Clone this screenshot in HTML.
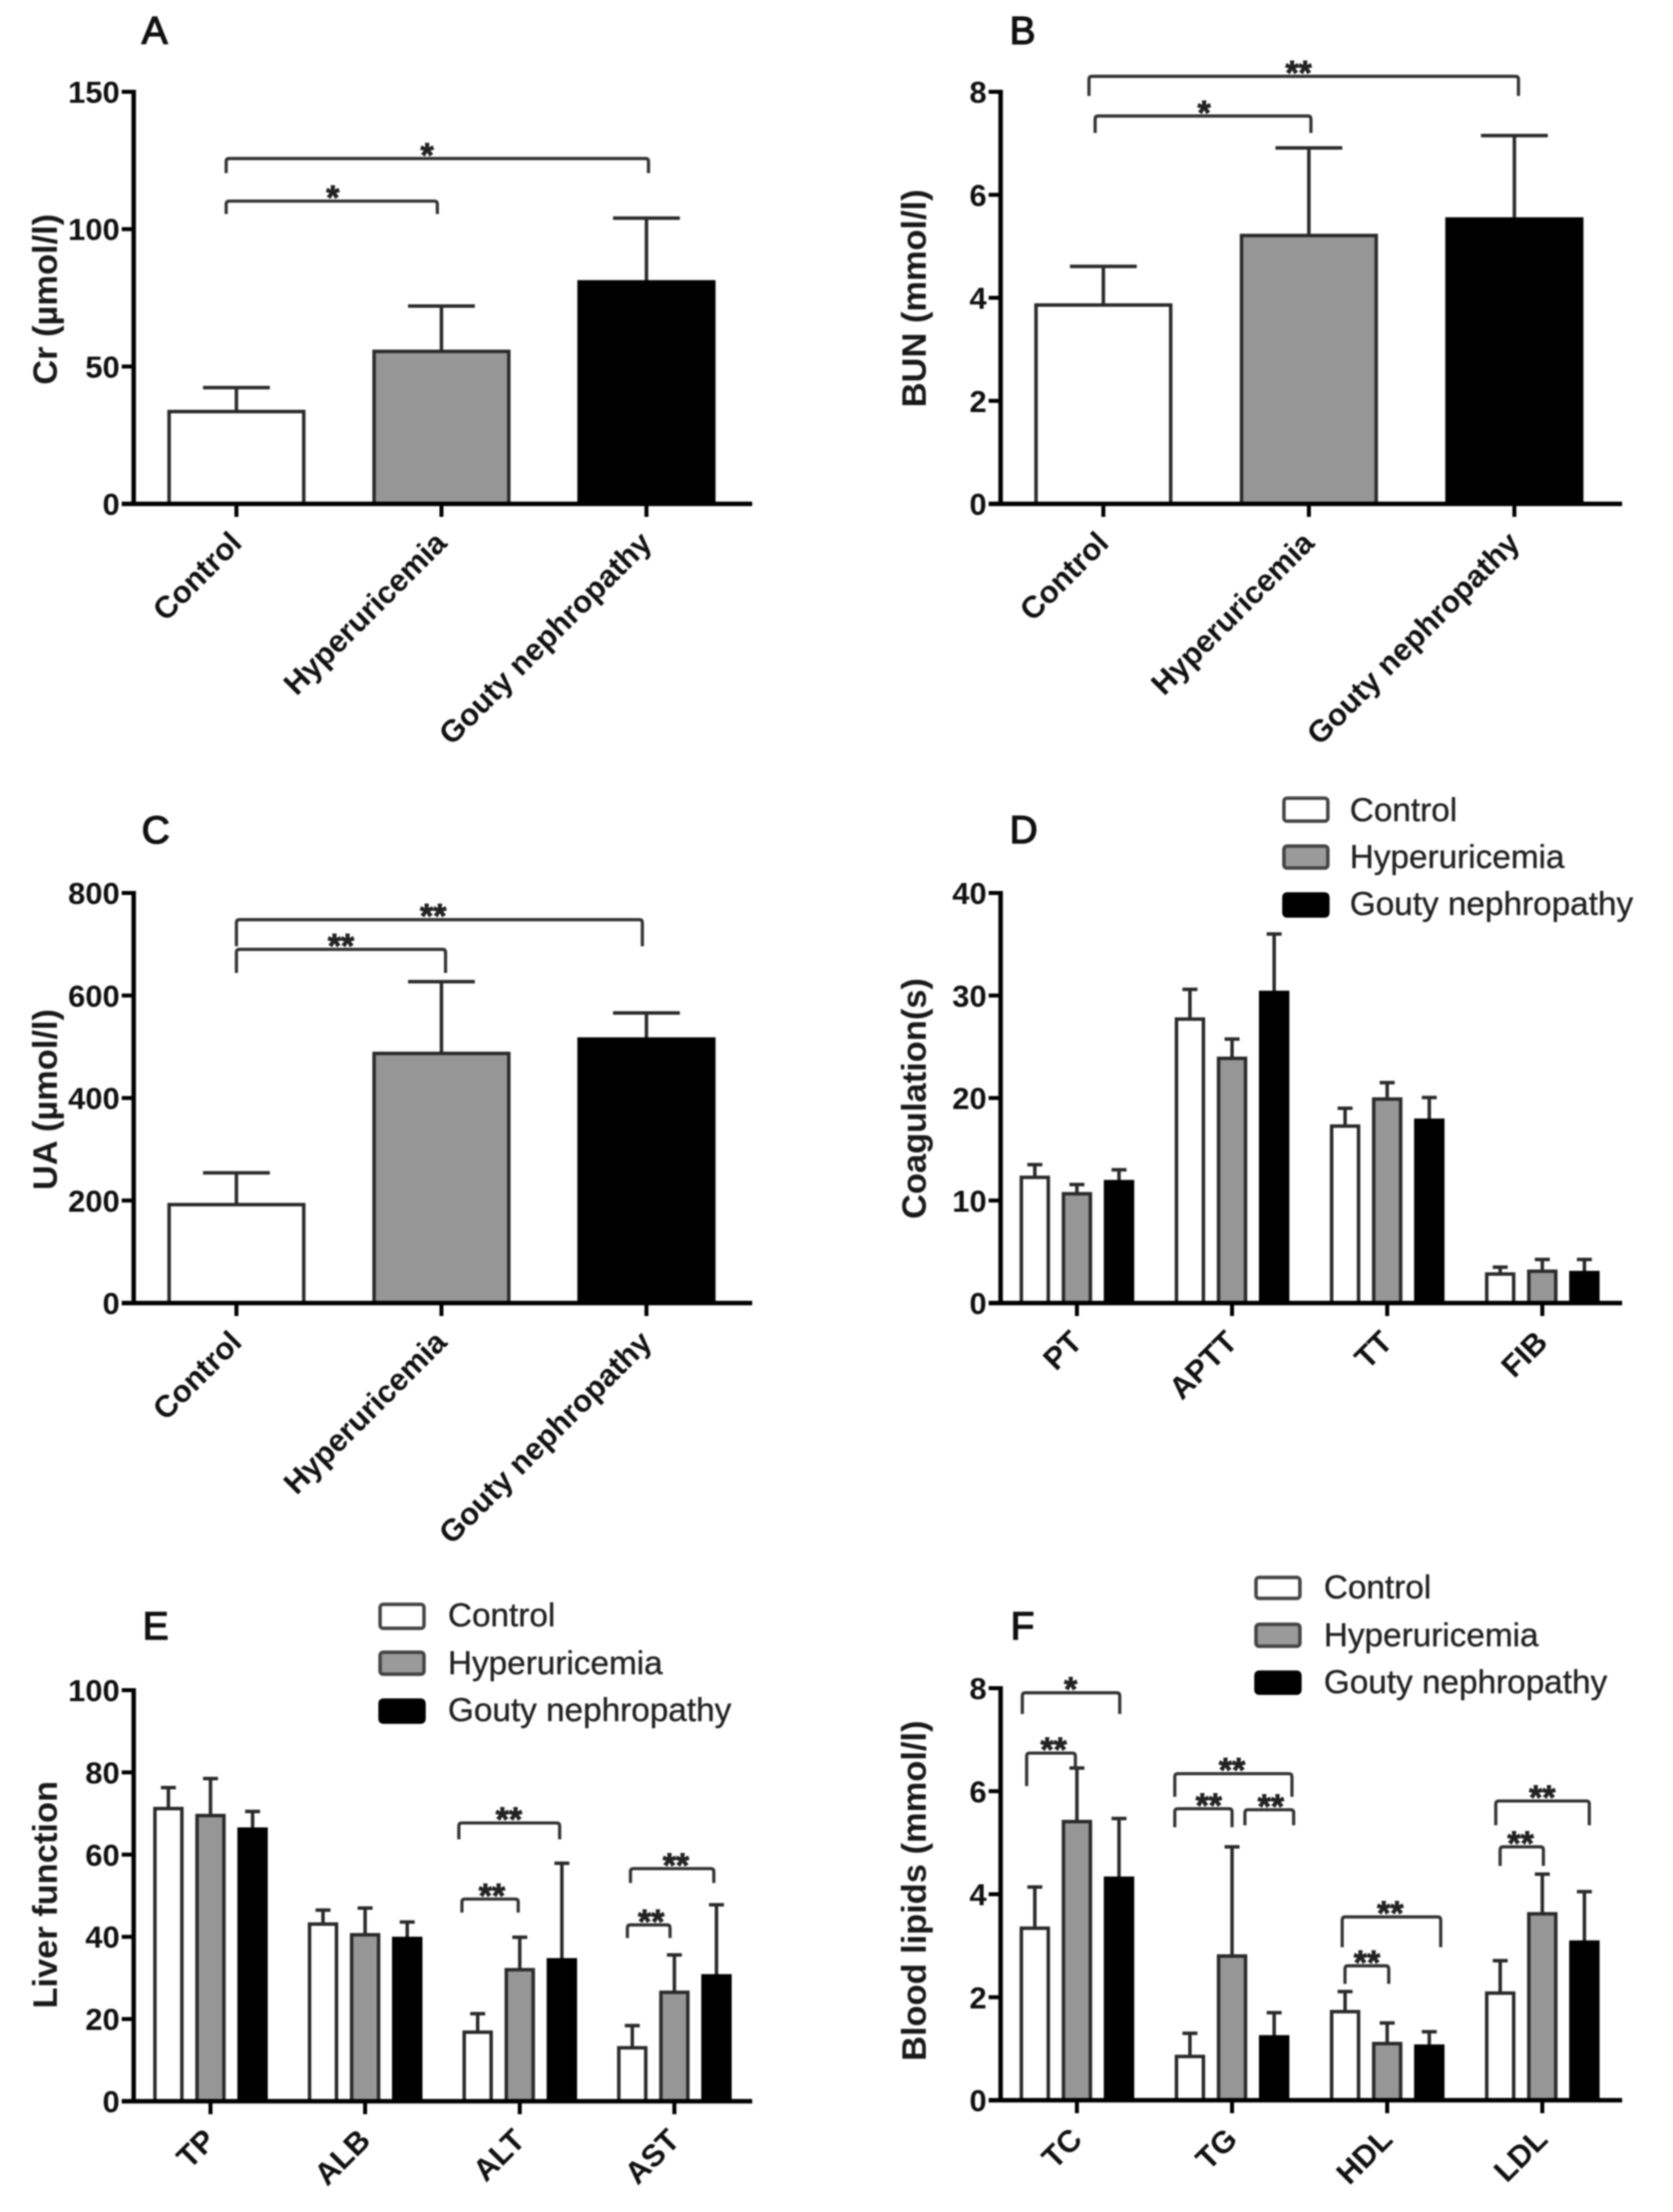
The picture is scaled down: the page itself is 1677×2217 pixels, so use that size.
<!DOCTYPE html>
<html lang="en">
<head>
<meta charset="utf-8">
<title>Clinical indicators by group</title>
<style>
  html,body{margin:0;padding:0;background:#fff;}
  svg{display:block;filter:blur(.85px);}
  text{font-family:"Liberation Sans",Arial,sans-serif;}
  .letter{font-size:39px;fill:#111;stroke:#111;stroke-width:1.3px;}
  .ytitle{font-size:34.5px;font-weight:bold;fill:#1a1a1a;text-anchor:middle;}
  .tick{font-size:31px;font-weight:bold;fill:#111;}
  .legend-text{font-size:33.4px;fill:#222;stroke:#222;stroke-width:.35px;}
  .star{font-size:34px;font-weight:bold;fill:#222;stroke:#222;stroke-width:.8px;text-anchor:middle;}
  .sw{stroke-width:3.5px;}
</style>
</head>
<body>
<svg id="figure" xmlns="http://www.w3.org/2000/svg" width="1677" height="2217" viewBox="0 0 1677 2217">
  <rect x="0" y="0" width="1677" height="2217" fill="#fff"/>

  <g id="panel-a">
    <text class="letter" x="142" y="44">A</text>
    <text class="ytitle" transform="translate(57,300) rotate(-90)">Cr (µmol/l)</text>
  </g>
  <g id="panel-b">
    <text class="letter" x="1012" y="44">B</text>
    <text class="ytitle" transform="translate(928,299) rotate(-90)">BUN (mmol/l)</text>
  </g>
  <g id="panel-c">
    <text class="letter" x="142" y="845">C</text>
    <text class="ytitle" transform="translate(57,1102) rotate(-90)">UA (µmol/l)</text>
  </g>
  <g id="panel-d">
    <text class="letter" x="1012" y="845">D</text>
    <text class="ytitle" transform="translate(928,1101) rotate(-90)">Coagulation(s)</text>
    <g>
      <rect class="sw" x="1290" y="800" width="44" height="23" rx="3" fill="#fff" stroke="#444" transform="translate(-3,0)"/>
      <text class="legend-text" x="1353" y="823">Control</text>
      <rect class="sw" x="1287" y="848" width="44" height="22" rx="3" fill="#9a9a9a" stroke="#444"/>
      <text class="legend-text" x="1353" y="870">Hyperuricemia</text>
      <rect class="sw" x="1287" y="896" width="44" height="22" rx="3" fill="#000" stroke="#000"/>
      <text class="legend-text" x="1353" y="917">Gouty nephropathy</text>
    </g>
  </g>
  <g id="panel-e">
    <text class="letter" x="143" y="1643">E</text>
    <text class="ytitle" transform="translate(57,1899) rotate(-90)">Liver function</text>
    <g>
      <rect class="sw" x="381" y="1608" width="44" height="24" rx="3" fill="#fff" stroke="#444"/>
      <text class="legend-text" x="449" y="1630">Control</text>
      <rect class="sw" x="381" y="1656" width="44" height="22" rx="3" fill="#9a9a9a" stroke="#444"/>
      <text class="legend-text" x="449" y="1678">Hyperuricemia</text>
      <rect class="sw" x="381" y="1704" width="44" height="22" rx="3" fill="#000" stroke="#000"/>
      <text class="legend-text" x="449" y="1725">Gouty nephropathy</text>
    </g>
  </g>
  <g id="panel-f">
    <text class="letter" x="1013" y="1643">F</text>
    <text class="ytitle" transform="translate(928,1895) rotate(-90)">Blood lipids (mmol/l)</text>
    <g>
      <rect class="sw" x="1259" y="1581" width="44" height="21" rx="3" fill="#fff" stroke="#444"/>
      <text class="legend-text" x="1327" y="1602">Control</text>
      <rect class="sw" x="1259" y="1628" width="44" height="22" rx="3" fill="#9a9a9a" stroke="#444"/>
      <text class="legend-text" x="1327" y="1650">Hyperuricemia</text>
      <rect class="sw" x="1259" y="1676" width="44" height="21" rx="3" fill="#000" stroke="#000"/>
      <text class="legend-text" x="1327" y="1697">Gouty nephropathy</text>
    </g>
  </g>
</svg>

<script>
// ---- Panel A: Cr ----
const categoriesA = ['Control', 'Hyperuricemia', 'Gouty nephropathy'];
const valuesA = [33.6, 55.5, 80.8];
const errorTopsA = [42.3, 72, 104];
const yTicksA = [0, 50, 100, 150];
// bracket: from, to (category units), top, left foot, right foot (value units), label, label x
const bracketsA = [
  [-0.05, 2.01, 125.7, 120.4, 120.4, '*', 0.93],
  [-0.05, 0.98, 110.2, 105.5, 105.5, '*', 0.47]
];

// ---- Panel B: BUN ----
const categoriesB = ['Control', 'Hyperuricemia', 'Gouty nephropathy'];
const valuesB = [3.86, 5.21, 5.53];
const errorTopsB = [4.61, 6.91, 7.15];
const yTicksB = [0, 2, 4, 6, 8];
const bracketsB = [
  [-0.07, 2.02, 8.3, 7.92, 7.92, '**', 0.95],
  [-0.04, 1.01, 7.53, 7.2, 7.2, '*', 0.49]
];

// ---- Panel C: UA ----
const categoriesC = ['Control', 'Hyperuricemia', 'Gouty nephropathy'];
const valuesC = [192, 487, 515];
const errorTopsC = [254, 627, 566];
const yTicksC = [0, 200, 400, 600, 800];
const bracketsC = [
  [0, 1.98, 748, 696, 696, '**', 0.96],
  [0, 1.02, 690, 644, 644, '**', 0.51]
];

// ---- Panel D: Coagulation ----
const categoriesD = ['PT', 'APTT', 'TT', 'FIB'];
const controlD = [12.26, 27.7, 17.26, 2.83];
const controlErrD = [13.5, 30.6, 19.0, 3.5];
const hyperD = [10.66, 23.87, 19.9, 3.1];
const hyperErrD = [11.56, 25.75, 21.5, 4.25];
const goutyD = [11.84, 30.3, 17.83, 2.97];
const goutyErrD = [13.0, 36.0, 20.05, 4.25];
const yTicksD = [0, 10, 20, 30, 40];

// ---- Panel E: Liver function ----
const categoriesE = ['TP', 'ALB', 'ALT', 'AST'];
const controlE = [71.2, 43.1, 16.8, 13];
const controlErrE = [76.3, 46.5, 21.3, 18.4];
const hyperE = [69.5, 40.5, 32, 26.5];
const hyperErrE = [78.5, 47, 39.9, 35.6];
const goutyE = [66.2, 39.6, 34.4, 30.5];
const goutyErrE = [70.5, 43.6, 57.9, 47.8];
const yTicksE = [0, 20, 40, 60, 80, 100];
const bracketsE = [
  [1.606, 2.258, 67.7, 63.7, 63.7, '**', 1.93],
  [1.626, 1.99, 49.2, 45.9, 45.9, '**', 1.82],
  [2.716, 3.255, 56.6, 53.1, 53.1, '**', 3.01],
  [2.696, 2.972, 42.9, 39.7, 39.7, '**', 2.85]
];

// ---- Panel F: Blood lipids ----
const categoriesF = ['TC', 'TG', 'HDL', 'LDL'];
const controlF = [3.34, 0.85, 1.72, 2.08];
const controlErrF = [4.14, 1.3, 2.11, 2.71];
const hyperF = [5.41, 2.8, 1.1, 3.62];
const hyperErrF = [6.45, 4.92, 1.5, 4.39];
const goutyF = [4.31, 1.23, 1.05, 3.07];
const goutyErrF = [5.47, 1.7, 1.33, 4.05];
const yTicksF = [0, 2, 4, 6, 8];
const bracketsF = [
  [-0.352, 0.276, 7.91, 7.5, 7.5, '*', -0.04],
  [-0.324, -0.01, 6.74, 6.1, 6.45, '**', -0.15],
  [0.631, 1.386, 6.34, 5.89, 5.89, '**', 1.0],
  [0.631, 1.0, 5.66, 5.3, 5.3, '**', 0.85],
  [1.083, 1.397, 5.64, 5.34, 5.34, '**', 1.25],
  [1.71, 2.345, 3.56, 2.97, 2.97, '**', 2.02],
  [1.728, 2.01, 2.61, 2.26, 2.26, '**', 1.87],
  [2.7, 3.303, 5.81, 5.34, 5.34, '**', 3.0],
  [2.728, 3.007, 4.92, 4.55, 4.55, '**', 2.86]
];

const NS = 'http://www.w3.org/2000/svg';
const INK = '#2a2a2a';
const fills = ['#ffffff', '#969696', '#000000'];
const strokes = ['#2a2a2a', '#2a2a2a', '#000000'];
const seriesNames = ['control', 'hyperuricemia', 'gouty'];

function mk(tag, attrs, name, parent, content) {
  const el = document.createElementNS(NS, tag);
  for (const k in attrs) el.setAttribute(k, attrs[k]);
  
  
  if (content !== undefined) el.textContent = content;
  parent.appendChild(el);
  return el;
}

function line(p, x1, y1, x2, y2, color, w, name) {
  return mk('line', {x1, y1, x2, y2, stroke: color, 'stroke-width': w}, name, p);
}

function makeYScale(y0, yTop, maxV) {
  return v => y0 - (v / maxV) * (y0 - yTop);
}

function makeXScale(x0, step) {
  return i => x0 + i * step;
}

function drawAxes(p, cfg, xs, ys, categories, yTicks) {
  const {axisX, y0, xEnd} = cfg;
  yTicks.forEach(t => {
    const y = ys(t);
    line(p, axisX - 12, y, axisX, y, '#000', 4, 'y-tick-' + t);
    mk('text', {class: 'tick', x: axisX - 14, y: y + 11, 'text-anchor': 'end'}, 'y-tick-label-' + t, p, String(t));
  });
  line(p, axisX, ys(yTicks[yTicks.length - 1]) - 2, axisX, y0 + 2, '#000', 4.5, 'y-axis');
  line(p, axisX - 12, y0, xEnd, y0, '#000', 4.5, 'x-axis');
  categories.forEach((c, i) => {
    const x = xs(i);
    line(p, x, y0, x, y0 + 13, '#000', 4, 'x-tick-' + c);
    mk('text', {class: 'tick', 'text-anchor': 'end',
      transform: 'translate(' + (x + 7) + ',' + (y0 + 41) + ') rotate(-45)'},
      'x-tick-label-' + c, p, c);
  });
}

function drawBar(p, cx, halfW, ys, y0, value, errTop, capHalf, s, label) {
  const top = ys(value);
  const eTop = ys(errTop);
  line(p, cx, top, cx, eTop, INK, 3.5, 'error-stem-' + label);
  line(p, cx - capHalf, eTop, cx + capHalf, eTop, INK, 3.5, 'error-cap-' + label);
  mk('rect', {x: cx - halfW, y: top, width: halfW * 2, height: y0 - top,
    fill: fills[s], stroke: strokes[s], 'stroke-width': 3.5}, 'bar-' + label, p);
}

function drawBrackets(p, brackets, xs, ys) {
  brackets.forEach((b, i) => {
    const xa = xs(b[0]), xb = xs(b[1]), yt = ys(b[2]), yl = ys(b[3]), yr = ys(b[4]);
    mk('path', {d: 'M' + xa + ' ' + yl + ' L' + xa + ' ' + (yt + 3) + ' Q' + xa + ' ' + yt + ' ' + (xa + 3) + ' ' + yt +
      ' L' + (xb - 3) + ' ' + yt + ' Q' + xb + ' ' + yt + ' ' + xb + ' ' + (yt + 3) + ' L' + xb + ' ' + yr,
      fill: 'none', stroke: '#333', 'stroke-width': 3.2}, 'significance-bracket-' + (i + 1), p);
    mk('text', {class: 'star', x: xs(b[6]), y: yt + 8}, 'significance-label-' + (i + 1), p, b[5]);
  });
}

function simplePanel(id, cfg, categories, values, errs, yTicks, brackets) {
  const p = document.getElementById(id);
  const xs = makeXScale(cfg.x0, cfg.step);
  const ys = makeYScale(cfg.y0, cfg.yTop, yTicks[yTicks.length - 1]);
  drawBrackets(p, brackets, xs, ys);
  categories.forEach((c, i) => {
    drawBar(p, xs(i), 67.5, ys, cfg.y0, values[i], errs[i], 33.5, i, c);
  });
  drawAxes(p, cfg, xs, ys, categories, yTicks);
}

function groupedPanel(id, cfg, categories, series, errs, yTicks, brackets) {
  const p = document.getElementById(id);
  const xs = makeXScale(cfg.x0, cfg.step);
  const ys = makeYScale(cfg.y0, cfg.yTop, yTicks[yTicks.length - 1]);
  categories.forEach((c, i) => {
    series.forEach((vals, s) => {
      drawBar(p, xs(i) + (s - 1) * 42.2, 13.5, ys, cfg.y0, vals[i], errs[s][i], 7.5, s, c + '-' + seriesNames[s]);
    });
  });
  drawBrackets(p, brackets, xs, ys);
  drawAxes(p, cfg, xs, ys, categories, yTicks);
}

simplePanel('panel-a', {axisX: 134, y0: 505, yTop: 92, xEnd: 754, x0: 237, step: 205.5},
  categoriesA, valuesA, errorTopsA, yTicksA, bracketsA);
simplePanel('panel-b', {axisX: 1003, y0: 505, yTop: 92, xEnd: 1626, x0: 1106, step: 206},
  categoriesB, valuesB, errorTopsB, yTicksB, bracketsB);
simplePanel('panel-c', {axisX: 134, y0: 1306, yTop: 895, xEnd: 754, x0: 237, step: 205.5},
  categoriesC, valuesC, errorTopsC, yTicksC, bracketsC);
groupedPanel('panel-d', {axisX: 1003, y0: 1306, yTop: 895, xEnd: 1626, x0: 1079.5, step: 155.5},
  categoriesD, [controlD, hyperD, goutyD], [controlErrD, hyperErrD, goutyErrD], yTicksD, []);
groupedPanel('panel-e', {axisX: 134, y0: 2106, yTop: 1694, xEnd: 754, x0: 211, step: 155},
  categoriesE, [controlE, hyperE, goutyE], [controlErrE, hyperErrE, goutyErrE], yTicksE, bracketsE);
groupedPanel('panel-f', {axisX: 1003, y0: 2105, yTop: 1692, xEnd: 1626, x0: 1079.5, step: 155.5},
  categoriesF, [controlF, hyperF, goutyF], [controlErrF, hyperErrF, goutyErrF], yTicksF, bracketsF);
</script>
</body>
</html>
